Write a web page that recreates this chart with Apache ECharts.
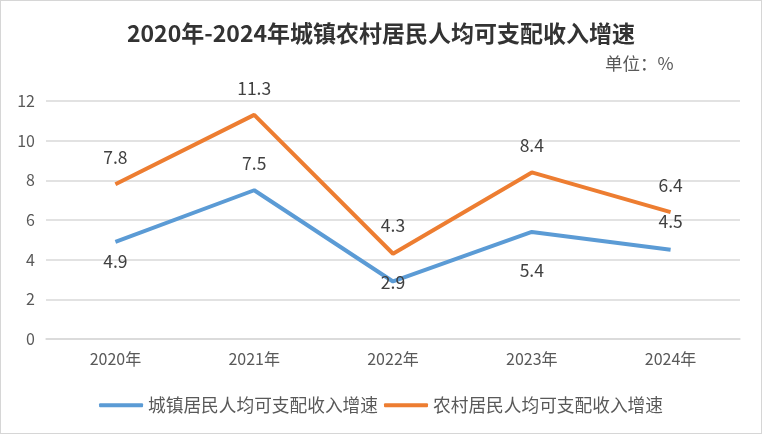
<!DOCTYPE html>
<html><head><meta charset="utf-8">
<script src="https://cdn.jsdelivr.net/npm/echarts@6/dist/echarts.min.js"></script>
<style>html,body{margin:0;padding:0;background:#fff}
#c{width:760px;height:432px;border:1px solid #d6d6d6;}</style>
</head><body><div id="c"></div>
<script>
const categories = ['2020年','2021年','2022年','2023年','2024年'];
const urbanValues = [4.9, 7.5, 2.9, 5.4, 4.5];
const ruralValues = [7.8, 11.3, 4.3, 8.4, 6.4];
const urbanName = '城镇居民人均可支配收入增速';
const ruralName = '农村居民人均可支配收入增速';
// label vertical offsets (px, negative = above point)
const urbanLabelDy = [20, -27, 1, 38, -28];
const ruralLabelDy = [-27, -27, -28, -27, -27];

const font = '"Noto Sans CJK SC", "Liberation Sans", sans-serif';
function mkData(vals, dys){
  return vals.map((v,i)=>({value:v, label:{offset:[0, dys[i]]}}));
}
const chart = echarts.init(document.getElementById('c'));
chart.setOption({
  animation:false,
  title:[{text:'2020年-2024年城镇农村居民人均可支配收入增速', left:'center', top:16,
    textStyle:{fontSize:23, fontWeight:'bold', color:'#333', fontFamily:font}},
    {text:'单位：%', left:599, top:49, textStyle:{fontSize:17.5, fontWeight:'normal', color:'#595959', fontFamily:font}}],
  grid:{left:45, right:21, top:100, bottom:94, containLabel:false},
  legend:{bottom:14, left:'center', itemWidth:44, itemHeight:4, itemGap:6,
    textStyle:{fontSize:17.7, color:'#595959', fontFamily:font},
    data:[{name:urbanName, icon:'roundRect'},{name:ruralName, icon:'roundRect'}]},
  xAxis:{type:'category', data:categories, boundaryGap:true,
    axisLine:{lineStyle:{color:'#d9d9d9', width:1.5}}, axisTick:{show:false},
    axisLabel:{fontSize:16, color:'#595959', margin:12, fontFamily:font}},
  yAxis:{type:'value', min:0, max:12, interval:2,
    axisLine:{show:false}, axisTick:{show:false},
    splitLine:{lineStyle:{color:'#d9d9d9', width:1.5}},
    axisLabel:{fontSize:16, color:'#595959', margin:11, fontFamily:font}},
  series:[
    {name:urbanName, type:'line', data:mkData(urbanValues, urbanLabelDy), symbol:'circle', symbolSize:0, showSymbol:true,
     lineStyle:{color:'#5B9BD5', width:4}, itemStyle:{color:'#5B9BD5'},
     label:{show:true, position:'inside', fontSize:17.5, color:'#404040', fontFamily:font}},
    {name:ruralName, type:'line', data:mkData(ruralValues, ruralLabelDy), symbol:'circle', symbolSize:0, showSymbol:true,
     lineStyle:{color:'#ED7D31', width:4}, itemStyle:{color:'#ED7D31'},
     label:{show:true, position:'inside', fontSize:17.5, color:'#404040', fontFamily:font}}
  ]
});
</script></body></html>
